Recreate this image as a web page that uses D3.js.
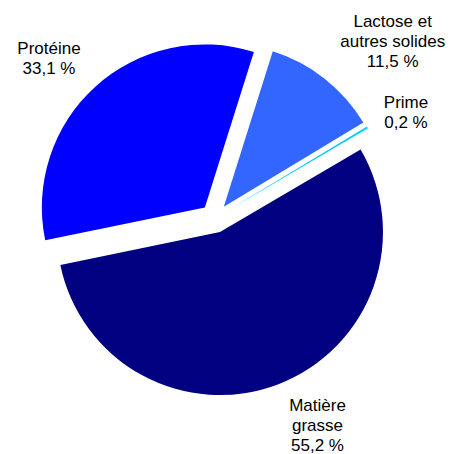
<!DOCTYPE html>
<html>
<head>
<meta charset="utf-8">
<script src="https://cdn.jsdelivr.net/npm/d3@7"></script>
<style>
html,body{margin:0;padding:0;background:#fff;}
svg{display:block;}
</style>
</head>
<body>
<svg id="chart" width="453" height="454"></svg>
<script>
const categories = ["Lactose et autres solides", "Prime", "Matière grasse", "Protéine"];
const values = [11.5, 0.2, 55.2, 33.1];
const valueLabels = ["11,5 %", "0,2 %", "55,2 %", "33,1 %"];
const labelLines = [["Lactose et", "autres solides"], ["Prime"], ["Matière", "grasse"], ["Protéine"]];
const colors = ["#3366FF", "#00CCFF", "#000080", "#0000FF"];

const W = 453, H = 454;
const cx = 214.7, cy = 218.3, R = 163, explode = 14.7;
const start = 17.5 * Math.PI / 180;

const svg = d3.select("#chart");
const g = svg.append("g").attr("transform", `translate(${cx},${cy})`);

const pie = d3.pie().sort(null).value(d => d).startAngle(start).endAngle(start + 2 * Math.PI);
const arcs = pie(values);
const arc = d3.arc().innerRadius(0).outerRadius(R);

g.selectAll("path.slice").data(arcs).enter().append("path")
  .attr("class", "slice")
  .attr("d", arc)
  .attr("fill", (d, i) => colors[i])
  .attr("transform", d => {
    const a = (d.startAngle + d.endAngle) / 2;
    return `translate(${explode * Math.sin(a)},${-explode * Math.cos(a)})`;
  });

// label anchors relative to pie centre (center x, first baseline)
const labelAnchor = [[178, -191.6], [191.3, -110], [102.8, 192.7], [-165.7, -164]];
const lineH = 20;
categories.forEach((c, i) => {
  const lines = labelLines[i].concat([valueLabels[i]]);
  const t = g.append("text")
    .attr("x", labelAnchor[i][0])
    .attr("y", labelAnchor[i][1])
    .attr("text-anchor", "middle")
    .attr("font-family", "'Liberation Sans', Arial, sans-serif")
    .attr("font-size", 17)
    .attr("fill", "#000");
  lines.forEach((l, k) => {
    t.append("tspan").attr("x", labelAnchor[i][0]).attr("y", labelAnchor[i][1] + k * lineH).text(l);
  });
});
</script>
</body>
</html>
